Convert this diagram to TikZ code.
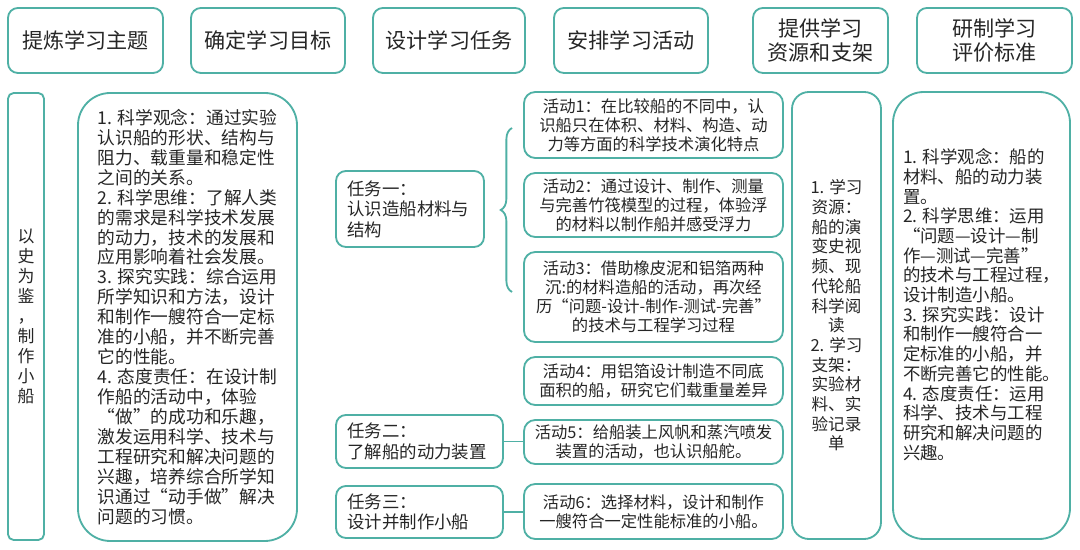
\documentclass[tikz,border=0pt]{standalone}
\usepackage{fontspec}
\setmainfont{Noto Sans CJK SC}
\usepackage{tikz}
\usetikzlibrary{decorations.pathreplacing,calc}
\definecolor{boxcol}{HTML}{4FB0A5}
\definecolor{txtcol}{HTML}{262626}

\begin{document}
\begin{tikzpicture}[
  box/.style={draw=boxcol, line width=1.3pt, rounded corners=#1, text=txtcol, inner sep=0pt},
  box/.default=7pt,
  head/.style={font=\fontsize{15}{17.5}\selectfont, align=center, minimum height=1.625cm},
  goaltxt/.style={font=\fontsize{12.6}{14.2}\selectfont, align=left},
  tasktxt/.style={font=\fontsize{12.4}{14.6}\selectfont, align=left, inner xsep=8pt, text width=#1},
  acttxt/.style={font=\fontsize{11.6}{13.5}\selectfont, align=center, minimum width=6.475cm},
  link/.style={draw=boxcol, line width=1.3pt}
]
\path[use as bounding box, fill=white] (0,0) rectangle (27,13.75);

% top row: the six design steps
\foreach \n/\x/\w/\txt in {1/2.1375/3.875/提炼学习主题, 2/6.7/3.85/确定学习目标, 3/11.225/3.8/设计学习任务, 4/15.775/3.85/安排学习活动}{
  \node[box, head, minimum width=\w cm] (h\n) at (\x,12.7375) {\txt};
}
\node[box, head, minimum width=3.375cm] (h5) at (20.5125,12.7375) {提供学习\\资源和支架};
\node[box, head, minimum width=3.875cm] (h6) at (24.8625,12.7375) {研制学习\\评价标准};

% theme and goals
\node[box=4pt, font=\fontsize{12}{14.2}\selectfont, align=center, minimum width=0.9cm, minimum height=11.175cm] (theme) at (0.65,5.8375) {以\\史\\为\\鉴\\，\\制\\作\\小\\船};
\node[box=23pt, goaltxt, minimum width=5.475cm, minimum height=11.2cm] (goals) at (4.6875,5.825) {1. 科学观念：通过实验\\认识船的形状、结构与\\阻力、载重量和稳定性\\之间的关系。\\2. 科学思维：了解人类\\的需求是科学技术发展\\的动力，技术的发展和\\应用影响着社会发展。\\3. 探究实践：综合运用\\所学知识和方法，设计\\和制作一艘符合一定标\\准的小船，并不断完善\\它的性能。\\4. 态度责任：在设计制\\作船的活动中，体验\\“做”的成功和乐趣，\\激发运用科学、技术与\\工程研究和解决问题的\\兴趣，培养综合所学知\\识通过“动手做”解决\\问题的习惯。};

% tasks
\node[box, tasktxt=3.136cm, minimum height=1.9cm] (t1) at (10.25,8.525) {任务一：\\认识造船材料与\\结构};
\node[box, tasktxt=3.61cm, minimum height=1.325cm] (t2) at (10.4875,2.7125) {任务二：\\了解船的动力装置};
\node[box, tasktxt=3.61cm, minimum height=1.3cm] (t3) at (10.4875,0.95) {任务三：\\设计并制作小船};

% activities
\node[box=8pt, acttxt, minimum height=1.65cm] (a1) at (16.3375,10.625) {活动1：在比较船的不同中，认\\识船只在体积、材料、构造、动\\力等方面的科学技术演化特点};
\node[box=8pt, acttxt, minimum height=1.6cm] (a2) at (16.3375,8.625) {活动2：通过设计、制作、测量\\与完善竹筏模型的过程，体验浮\\的材料以制作船并感受浮力};
\node[box=8pt, acttxt, minimum height=2.25cm] (a3) at (16.3375,6.325) {活动3：借助橡皮泥和铝箔两种\\沉:的材料造船的活动，再次经\\历“问题-设计-制作-测试-完善”\\的技术与工程学习过程};
\node[box=8pt, acttxt, minimum height=1.2cm] (a4) at (16.3375,4.225) {活动4：用铝箔设计制造不同底\\面积的船，研究它们载重量差异};
\node[box=8pt, acttxt, minimum height=1.1cm] (a5) at (16.3375,2.7) {活动5：给船装上风帆和蒸汽喷发\\装置的活动，也认识船舵。};
\node[box=8pt, acttxt, minimum height=1.375cm] (a6) at (16.3375,0.9625) {活动6：选择材料，设计和制作\\一艘符合一定性能标准的小船。};

% brace and links from tasks to activities
\coordinate (bt) at (12.8,10.55);
\coordinate (bb) at (12.8,6.45);
\draw[link, decorate, decoration={brace, amplitude=8pt}] (bb) -- (bt);
\draw[link] (t2.east) -- (t2.east -| a5.west);
\draw[link] (t3.east) -- (t3.east -| a6.west);

% resources and evaluation
\node[box=12pt, font=\fontsize{11.8}{14}\selectfont, align=center, minimum width=2.225cm, minimum height=11.175cm] (res) at (20.9125,5.8625) {1. 学习\\资源：\\船的演\\变史视\\频、现\\代轮船\\科学阅\\读\\2. 学习\\支架：\\实验材\\料、实\\验记录\\单};
\node[box=22pt, minimum width=4.425cm, minimum height=11.175cm] (eval) at (24.5375,5.8625) {};
\node[font=\fontsize{12.4}{14}\selectfont, align=left, text=txtcol] (evaltext) at (eval.center) [yshift=0.27cm] {1. 科学观念：船的\\材料、船的动力装\\置。\\2. 科学思维：运用\\“问题—设计—制\\作—测试—完善”\\的技术与工程过程，\\设计制造小船。\\3. 探究实践：设计\\和制作一艘符合一\\定标准的小船，并\\不断完善它的性能。\\4. 态度责任：运用\\科学、技术与工程\\研究和解决问题的\\兴趣。};
\end{tikzpicture}
\end{document}
